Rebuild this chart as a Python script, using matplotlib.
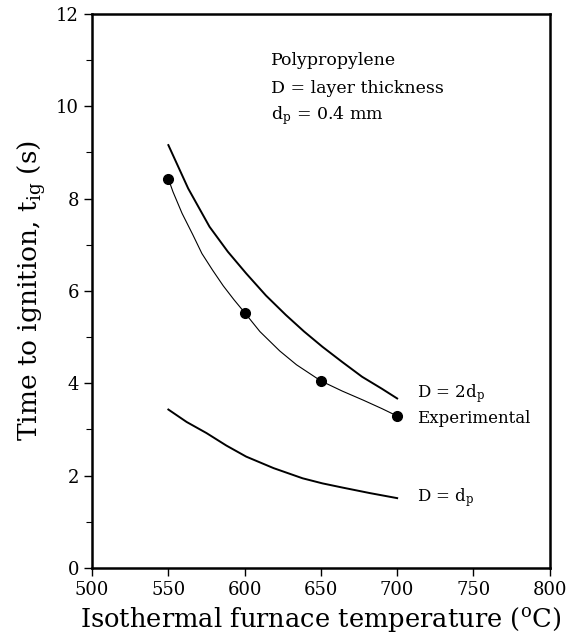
import matplotlib
matplotlib.use("Agg")
import matplotlib.pyplot as plt
from matplotlib.ticker import MultipleLocator

plt.rcParams['font.family'] = ['DejaVu Serif']
plt.rcParams['mathtext.fontset'] = 'dejavuserif'

# values
exp_temp = [550, 600, 650, 700]
exp_time = [8.43, 5.53, 4.05, 3.29]

# thin line through the experimental points
exp_line_temp = [550, 553, 559, 566, 572, 579, 586, 593, 600, 610, 623, 634, 650, 664, 678, 690, 700]
exp_line_time = [8.43, 8.15, 7.68, 7.22, 6.81, 6.45, 6.11, 5.81, 5.53, 5.12, 4.70, 4.40, 4.05, 3.83, 3.63, 3.45, 3.29]

two_dp_temp = [550, 563, 577, 589, 601, 614, 627, 639, 651, 664, 677, 690, 700]
two_dp_time = [9.16, 8.22, 7.39, 6.85, 6.38, 5.90, 5.48, 5.12, 4.79, 4.46, 4.14, 3.88, 3.67]

dp_temp = [550, 562, 575, 588, 601, 619, 638, 651, 664, 682, 700]
dp_time = [3.43, 3.16, 2.92, 2.65, 2.41, 2.16, 1.94, 1.83, 1.74, 1.62, 1.51]

fig = plt.figure(figsize=(5.72, 6.38), dpi=100)
ax = fig.add_axes([0.161, 0.110, 0.800, 0.868])

ax.plot(two_dp_temp, two_dp_time, color='k', lw=1.4)
ax.plot(exp_line_temp, exp_line_time, color='k', lw=0.8)
ax.plot(exp_temp, exp_time, 'o', color='k', ms=7)
ax.plot(dp_temp, dp_time, color='k', lw=1.4)

ax.set_xlim(500, 800)
ax.set_ylim(0, 12)
ax.xaxis.set_major_locator(MultipleLocator(50))
ax.yaxis.set_major_locator(MultipleLocator(2))
ax.yaxis.set_minor_locator(MultipleLocator(1))
ax.tick_params(which='major', direction='out', length=6, width=1, labelsize=13)
ax.tick_params(which='minor', direction='out', length=4, width=0.8)
for sp in ax.spines.values():
    sp.set_linewidth(1.8)

ax.set_xlabel('Isothermal furnace temperature ($^{\\mathrm{o}}$C)', fontsize=18.5, labelpad=4)
ax.set_ylabel('Time to ignition, t$_{\\mathrm{ig}}$ (s)', fontsize=19, labelpad=6)

ax.text(617, 11.0, 'Polypropylene', fontsize=12.5, va='center')
ax.text(617, 10.38, 'D = layer thickness', fontsize=12.5, va='center')
ax.text(617, 9.8, 'd$_\\mathrm{p}$ = 0.4 mm', fontsize=12.5, va='center')

ax.text(713, 3.77, 'D = 2d$_\\mathrm{p}$', fontsize=12, va='center')
ax.text(713, 3.23, 'Experimental', fontsize=12, va='center')
ax.text(713, 1.52, 'D = d$_\\mathrm{p}$', fontsize=12, va='center')

fig.savefig('out.png', dpi=100)
